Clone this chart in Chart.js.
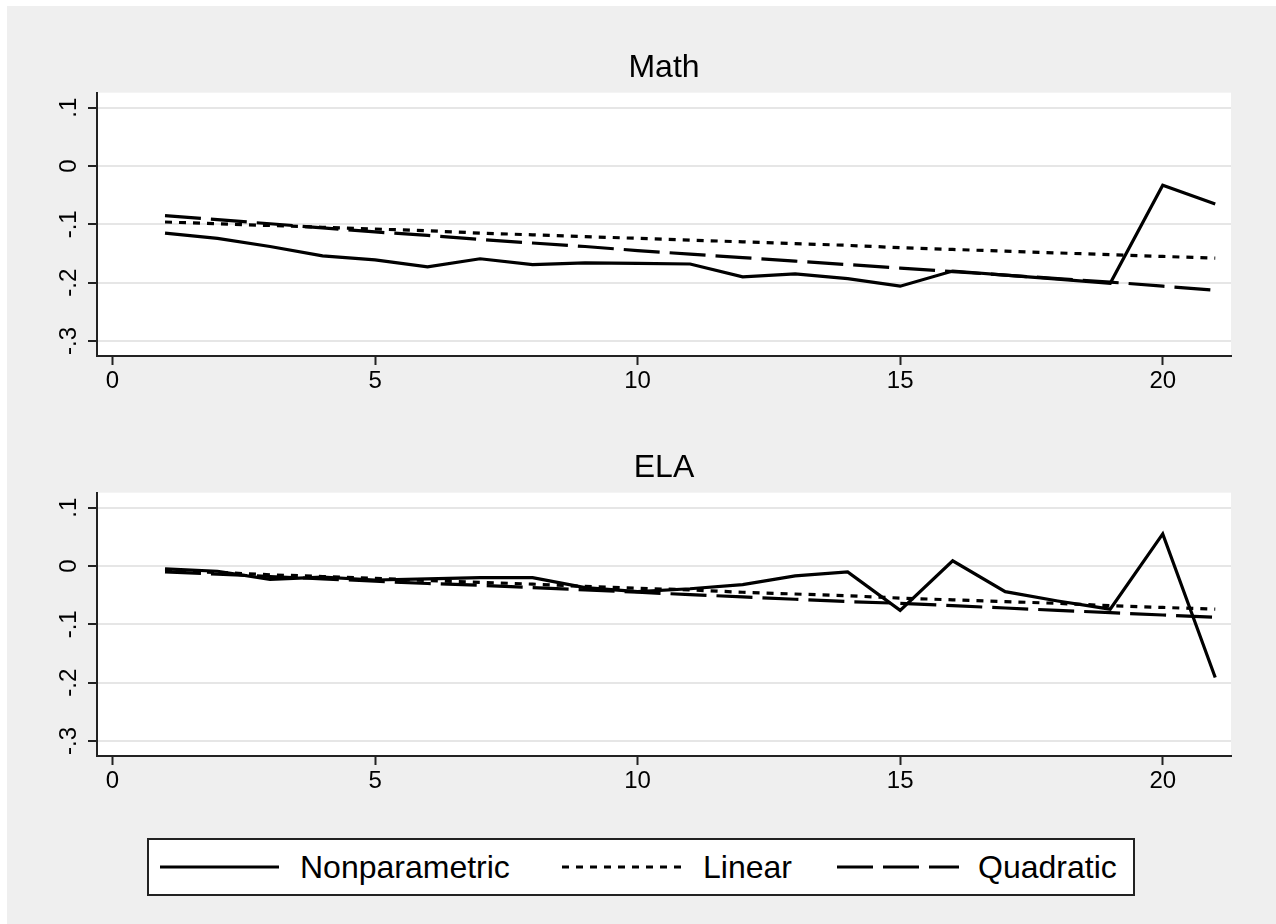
<!DOCTYPE html>
<html>
<head>
<meta charset="utf-8">
<script src="https://cdn.jsdelivr.net/npm/chart.js@4.4.1/dist/chart.umd.min.js"></script>
<style>
  body { margin: 0; width: 1276px; height: 924px; position: relative; overflow: hidden; background: #fff;
         font-family: "Liberation Sans", Arial, sans-serif; }
  #bg { position: absolute; left: 7px; top: 6px; right: 0; bottom: 0; background: #efefef; }
  canvas { position: absolute; left: 7px; }
  #mathChart { top: 6px; }
  #elaChart { top: 406px; }
  #legend { position: absolute; left: 147px; top: 838px; width: 984px; height: 54px;
            border: 2px solid #222; background: #fff; }
  #legend .txt { position: absolute; top: 0; line-height: 54px; font-size: 32px; color: #000; }
  #legend svg { position: absolute; top: 24px; }
</style>
</head>
<body>
<div id="bg"></div>
<canvas id="mathChart" width="1314" height="400"></canvas>
<canvas id="elaChart" width="1314" height="400"></canvas>
<div id="legend">
  <svg style="left:11px" width="119" height="6"><line x1="0" y1="3" x2="119" y2="3" stroke="#000" stroke-width="3"/></svg>
  <span class="txt" style="left:151px">Nonparametric</span>
  <svg style="left:413px" width="119" height="6"><line x1="0" y1="3" x2="119" y2="3" stroke="#000" stroke-width="3" stroke-dasharray="7 7"/></svg>
  <span class="txt" style="left:554px">Linear</span>
  <svg style="left:688px" width="122" height="6"><line x1="0" y1="3" x2="122" y2="3" stroke="#000" stroke-width="3" stroke-dasharray="36 10"/></svg>
  <span class="txt" style="left:829px">Quadratic</span>
</div>
<script>
const FONT = '"Liberation Sans", Arial, sans-serif';

const xValues = [1, 2, 3, 4, 5, 6, 7, 8, 9, 10, 11, 12, 13, 14, 15, 16, 17, 18, 19, 20, 21];

const mathNonparametric = [-0.115, -0.124, -0.138, -0.154, -0.161, -0.173, -0.159, -0.169, -0.166, -0.167, -0.168,
  -0.190, -0.185, -0.193, -0.206, -0.180, -0.187, -0.194, -0.201, -0.033, -0.065];
const mathLinear = [-0.096, -0.099, -0.102, -0.105, -0.108, -0.111, -0.115, -0.118, -0.121, -0.124, -0.127,
  -0.130, -0.133, -0.136, -0.140, -0.143, -0.146, -0.149, -0.152, -0.155, -0.158];
const mathQuadratic = [-0.085, -0.092, -0.099, -0.106, -0.113, -0.119, -0.126, -0.132, -0.138, -0.145, -0.151,
  -0.157, -0.163, -0.169, -0.175, -0.181, -0.187, -0.193, -0.199, -0.206, -0.213];

const elaNonparametric = [-0.005, -0.009, -0.023, -0.019, -0.024, -0.022, -0.020, -0.020, -0.037, -0.044, -0.039,
  -0.032, -0.017, -0.010, -0.076, 0.009, -0.044, -0.060, -0.074, 0.055, -0.191];
const elaLinear = [-0.008, -0.011, -0.015, -0.018, -0.021, -0.025, -0.028, -0.031, -0.035, -0.038, -0.041,
  -0.045, -0.048, -0.051, -0.055, -0.058, -0.061, -0.064, -0.068, -0.071, -0.074];
const elaQuadratic = [-0.010, -0.014, -0.018, -0.022, -0.026, -0.030, -0.033, -0.037, -0.041, -0.045, -0.049,
  -0.053, -0.057, -0.061, -0.064, -0.068, -0.072, -0.076, -0.080, -0.084, -0.088];

const xTicks = [0, 5, 10, 15, 20];
const yTicks = [-0.3, -0.2, -0.1, 0, 0.1];
const yTickLabels = ['-.3', '-.2', '-.1', '0', '.1'];

// white plot region like Stata's plotregion
const plotBg = {
  id: 'plotBg',
  beforeDraw(chart) {
    const { ctx, chartArea: a } = chart;
    ctx.save();
    ctx.fillStyle = '#fff';
    ctx.fillRect(a.left, a.top, a.right - a.left, a.bottom - a.top);
    ctx.restore();
  }
};

function series(values, dash) {
  return {
    data: xValues.map((x, i) => ({ x: x, y: values[i] })),
    borderColor: '#000',
    borderWidth: 3.2,
    borderDash: dash,
    pointRadius: 0,
    tension: 0,
    fill: false
  };
}

function makePanel(id, title, np, lin, quad) {
  new Chart(document.getElementById(id), {
    type: 'line',
    data: {
      datasets: [
        series(np, []),
        series(lin, [7, 7]),
        series(quad, [36, 10])
      ]
    },
    plugins: [plotBg],
    options: {
      responsive: false,
      animation: false,
      devicePixelRatio: 1,
      layout: { padding: { left: 0, right: 0, top: 0, bottom: 6 } },
      plugins: {
        legend: { display: false },
        tooltip: { enabled: false },
        title: {
          display: true,
          text: title,
          color: '#000',
          font: { family: FONT, size: 32, weight: 'normal', lineHeight: 1.2 },
          padding: { top: 43.3, bottom: 5 }
        }
      },
      scales: {
        x: {
          type: 'linear',
          min: -0.295,
          max: 21.3,
          afterBuildTicks: s => { s.ticks = xTicks.map(v => ({ value: v })); },
          afterFit: s => { s.height = 44; },
          grid: { drawOnChartArea: false, tickLength: 9, tickColor: '#222', tickWidth: 2 },
          border: { color: '#222', width: 2 },
          ticks: { color: '#000', font: { family: FONT, size: 24 }, padding: 2, maxRotation: 0 }
        },
        y: {
          type: 'linear',
          min: -0.3257,
          max: 0.1257,
          afterBuildTicks: s => { s.ticks = yTicks.map(v => ({ value: v })); },
          afterFit: s => { s.width = 90; },
          grid: { color: '#e6e6e6', lineWidth: 2, tickLength: 9, tickColor: '#222', tickWidth: 2 },
          border: { color: '#222', width: 2 },
          ticks: {
            color: '#000',
            font: { family: FONT, size: 24 },
            minRotation: 90,
            maxRotation: 90,
            crossAlign: 'center',
            padding: 4.5,
            callback: v => yTickLabels[yTicks.indexOf(v)]
          }
        },
        // empty right margin so the title centres over the plot region
        spacer: {
          type: 'linear',
          position: 'right',
          min: 0,
          max: 1,
          afterFit: s => { s.width = 90; },
          grid: { display: false },
          border: { display: false },
          ticks: { display: false }
        }
      }
    }
  });
}

makePanel('mathChart', 'Math', mathNonparametric, mathLinear, mathQuadratic);
makePanel('elaChart', 'ELA', elaNonparametric, elaLinear, elaQuadratic);
</script>
</body>
</html>
